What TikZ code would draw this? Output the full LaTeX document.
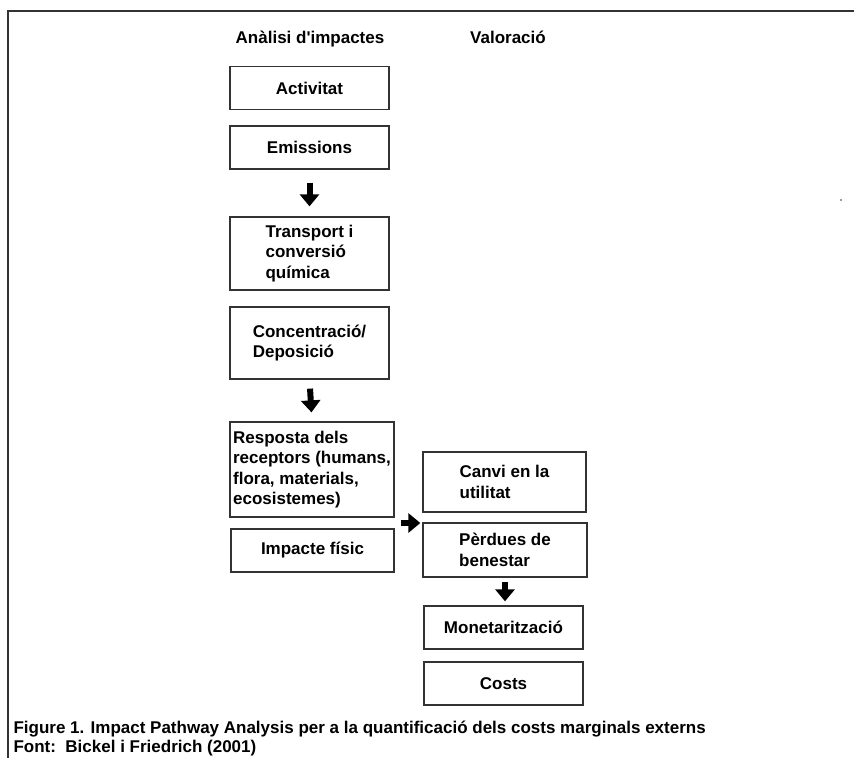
\documentclass[tikz,border=0pt]{standalone}
\usepackage{fontspec}
\setmainfont{Liberation Sans}
\usepackage{tikz}
\usetikzlibrary{arrows.meta,calc}
\definecolor{frameline}{rgb}{0.2,0.2,0.2}

\begin{document}
\begin{tikzpicture}[x=1pt, y=-1pt, font=\fontsize{17}{20.5}\selectfont\bfseries,
        box/.style={draw=frameline, line width=1.3pt, align=left, inner sep=0pt, minimum width=159pt, minimum height=43pt},
        flowarrow/.style={line width=6pt, -{Triangle[width=19pt,length=12pt]}}]
        \useasboundingbox (0,0) rectangle (854,758);
        \draw[frameline, line width=1.3pt] (854,11) -- (8,11) -- (8,758);
        \fill[frameline] (841,200) circle (0.8);

        \node[anchor=base] (hanalisi) at (310,43) {Anàlisi d\textquotesingle impactes};
        \node[anchor=base] (hvalor) at (508,43) {Valoració};

        \node[box] (act) at (309.5,88) {Activitat};
        \node[box] (emi) at (309.5,147.5) {Emissions};
        \node[box, minimum height=73pt] (trans) at (309.5,253.5) {Transport i\\conversió\\química};
        \node[box, minimum height=72pt] (conc) at (309.5,343) {Concentració/\\Deposició};
        \node[box, minimum width=164pt, minimum height=95pt] (resp) at (312,469.5) {Resposta dels\\receptors (humans,\\flora, materials,\\ecosistemes)};
        \node[box, minimum width=163pt] (imp) at (312.5,550.5) {Impacte físic};

        \node[box, minimum width=163pt, minimum height=60pt] (canvi) at (504.5,482) {Canvi en la\\utilitat};
        \node[box, minimum width=164pt, minimum height=54pt] (perd) at (505,550) {Pèrdues de\\benestar};
        \node[box] (mon) at (503.5,627.5) {Monetarització};
        \node[box] (costs) at (503.5,683.5) {Costs};

        \draw[flowarrow, shorten <=13pt, shorten >=10pt] (emi.south) -- (trans.north);
        \draw[flowarrow, shorten <=9pt, shorten >=9pt] (conc.south) -- (resp.north);
        \coordinate (split) at ($(resp.south east)!0.5!(imp.north east)$);
        \draw[flowarrow, shorten <=6pt, shorten >=2pt] (split) -- (split -| perd.west);
        \draw[flowarrow, shorten <=4pt, shorten >=4pt] (perd.south) -- (perd.south |- mon.north);

        \node[anchor=west] (caption) at (10,729) {Figure 1. Impact Pathway Analysis per a la quantificació dels costs marginals externs};
        \node[anchor=west] (source) at (10,748) {Font:\ \ Bickel i Friedrich (2001)};
    \end{tikzpicture}
\end{document}
